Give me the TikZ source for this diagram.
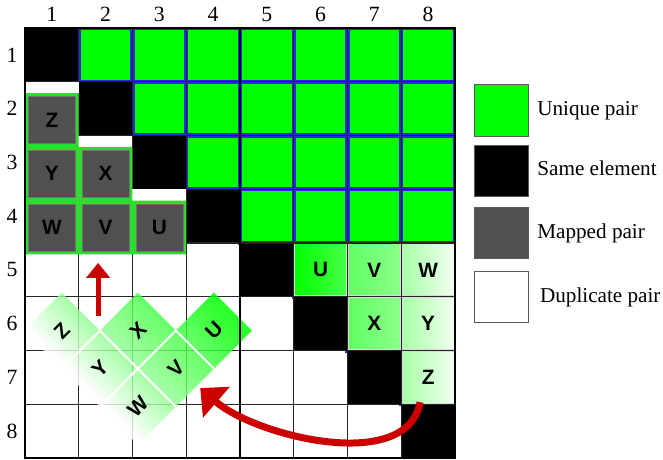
\documentclass[tikz,border=0pt]{standalone}
\usepackage{fontspec}
\setmainfont{Liberation Serif}
\setsansfont{Liberation Sans}
\usepackage{tikz}
\usetikzlibrary{arrows.meta, positioning}

\definecolor{uniquegreen}{RGB}{0,255,0}
\definecolor{cellblue}{RGB}{40,40,225}
\definecolor{mapgreen}{RGB}{45,220,45}
\definecolor{mapgray}{RGB}{80,80,80}
\definecolor{arrowred}{RGB}{205,0,0}

\pgfdeclarehorizontalshading{fadegreen}{100bp}{color(0bp)=(white); color(33bp)=(white);
  color(44bp)=(uniquegreen!42); color(56bp)=(uniquegreen!72); color(66bp)=(uniquegreen); color(100bp)=(uniquegreen)}

\begin{document}
\begin{tikzpicture}[
  gridline/.style={black!85, line width=0.7pt},
  letter/.style={font=\sffamily\bfseries\fontsize{11}{13}\selectfont},
  numlabel/.style={font=\fontsize{11.5}{13}\selectfont, inner sep=0pt},
  shadecell/.style={letter, minimum size=0.97cm, inner sep=0pt, draw=white!85!black, line width=0.6pt},
  mapcell/.style={letter, fill=mapgray, draw=black!55, line width=0.3pt, minimum size=0.875cm, inner sep=0pt},
  legbox/.style={minimum width=0.99cm, minimum height=0.96cm, inner sep=0pt, draw=black!65, line width=0.6pt},
  legtext/.style={font=\fontsize{11.2}{13}\selectfont, text height=1.6ex, text depth=0.45ex, inner sep=1pt},
  redarrow/.style={arrowred, line cap=butt}
]
\useasboundingbox (-0.465,0.521) rectangle (11.870,-8.037);
\fill[white] (-0.465,0.521) rectangle (11.870,-8.037);

% upper triangle: unique pairs
\begin{scope}
\clip (0,0) rectangle (8,-8);
\foreach \r in {1,...,7} {
  \pgfmathtruncatemacro\nxt{\r+1}
  \foreach \c in {\nxt,...,8}
    \draw[fill=uniquegreen, draw=cellblue, line width=2.2pt] (\c-1,1-\r) rectangle (\c,-\r);
}
\end{scope}
% diagonal: same element
\foreach \i in {1,...,8}
  \fill[black] (\i-1,1-\i) rectangle (\i,-\i);

% rotated block, final place
\foreach \c/\r/\l/\a/\b in {6/5/U/100/72, 7/5/V/62/45, 8/5/W/35/5, 7/6/X/62/45, 8/6/Y/35/5, 8/7/Z/35/5}
  \node[shadecell, left color=uniquegreen!\a, right color=uniquegreen!\b] (r-\l) at (\c-0.5,0.5-\r) {\l};

% grid
\foreach \i in {0,...,8} {
  \draw[gridline] (\i,0) -- (\i,-8);
  \draw[gridline] (0,-\i) -- (8,-\i);
}

% block half way (45 degrees)
\begin{scope}[shift={(2.1,-5.63)}, rotate=45]
  \begin{scope}
    \clip (-1.5,1.5) -- (-0.5,1.5) -- (-0.5,0.5) -- (0.5,0.5) -- (0.5,-0.5) -- (1.5,-0.5) -- (1.5,-1.5) -- (-1.5,-1.5) -- cycle;
    \shade[shading=fadegreen, shading angle=45, fill opacity=0.82] (-1.5,-1.5) rectangle (1.5,1.5);
  \end{scope}
  \draw[white, line width=1pt] (-0.5,-1.5) -- (-0.5,0.5) (0.5,-1.5) -- (0.5,-0.5)
    (-1.5,-0.5) -- (0.5,-0.5) (-1.5,0.5) -- (-0.5,0.5);
  \foreach \x/\y/\l in {-1/1/Z, -1/0/Y, 0/0/X, -1/-1/W, 0/-1/V, 1/-1/U}
    \node[letter, rotate=45] (d-\l) at (\x,\y) {\l};
\end{scope}

% mapped pairs
\foreach \c/\r in {1/2, 1/3, 2/3, 1/4, 2/4, 3/4}
  \fill[white] (\c-1,1-\r) rectangle (\c,0.79-\r);
\fill[mapgreen] (0,-1.21) -- (1,-1.21) -- (1,-2.21) -- (2,-2.21) -- (2,-3.21) -- (3,-3.21) -- (3,-4.21) -- (0,-4.21) -- cycle;
\foreach \c/\r/\l in {1/2/Z, 1/3/Y, 2/3/X, 1/4/W, 2/4/V, 3/4/U}
  \node[mapcell] (m-\l) at (\c-0.5,0.29-\r) {\l};

\draw[black, line width=1.3pt] (4,0) -- (4,-8);
\draw[black, line width=1pt] (0,0) rectangle (8,-8);

% row and column numbers
\foreach \i in {1,...,8} {
  \node[numlabel] (col-\i) at (\i-0.5,0.26) {\i};
  \node[numlabel] (row-\i) at (-0.24,0.5-\i) {\i};
}

% legend
\node[legbox, fill=uniquegreen] (key-unique) at (8.865,-1.535) {};
\node[legbox, fill=black] (key-same) at (8.865,-2.66) {};
\node[legbox, fill=mapgray] (key-mapped) at (8.865,-3.815) {};
\node[legbox, fill=white] (key-dup) at (8.865,-5.005) {};
\node[legtext, right=0.12cm of key-unique] (txt-unique) {Unique pair};
\node[legtext, right=0.12cm of key-same] (txt-same) {Same element};
\node[legtext, right=0.12cm of key-mapped] (txt-mapped) {Mapped pair};
\node[legtext, right=0.17cm of key-dup] (txt-dup) {Duplicate pair};

% arrows
\coordinate (upfoot) at (1.36,-5.36);
\coordinate (uptip) at (1.36,-4.37);
\draw[redarrow, line width=2.6pt, -{Triangle[width=0.43cm, length=0.28cm]}] (upfoot) -- (uptip);
\coordinate (bendstart) at (7.35,-6.96);
\coordinate (bendtip) at (3.26,-6.70);
\draw[redarrow, line width=3.7pt, -{Triangle[width=0.74cm, length=0.4cm]}] (bendstart) to[out=-100, in=-41, looseness=0.85] (bendtip);
\end{tikzpicture}
\end{document}
